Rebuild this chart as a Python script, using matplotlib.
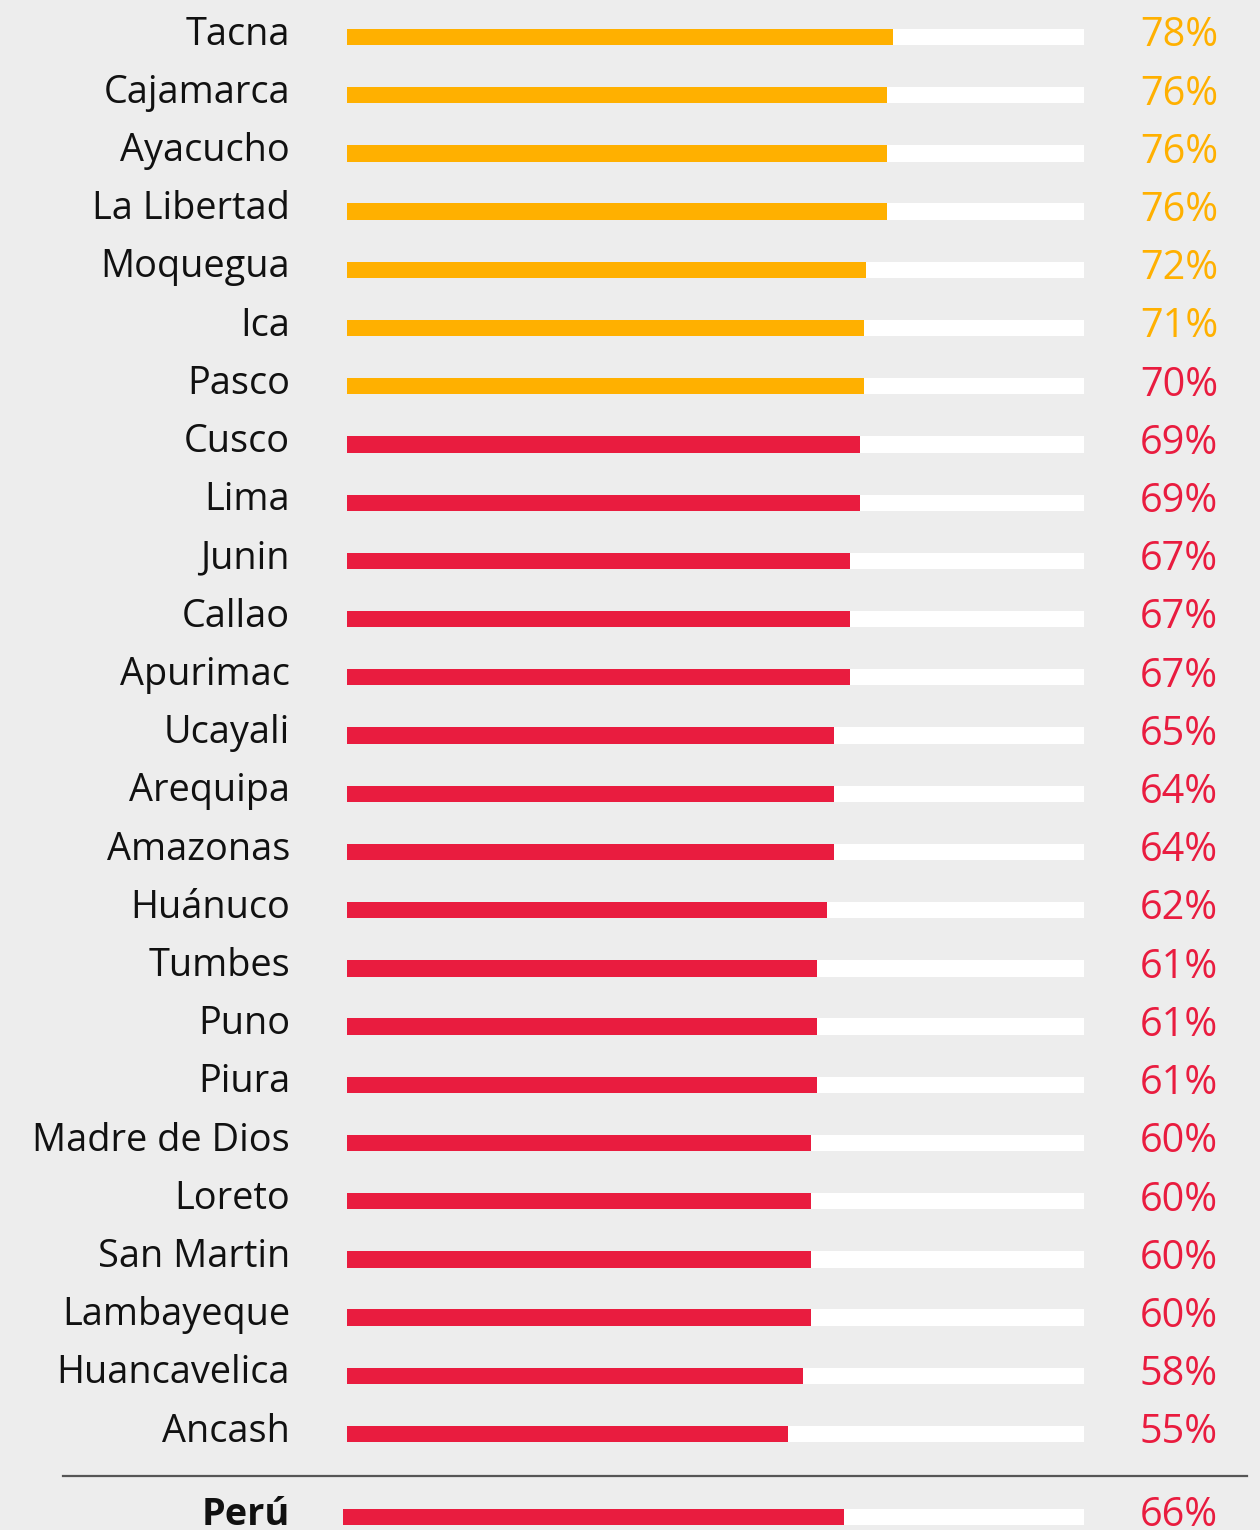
import numpy as np
import matplotlib.pyplot as plt

plt.rcParams['font.family'] = ['Open Sans', 'DejaVu Sans']

regions = ['Tacna', 'Cajamarca', 'Ayacucho', 'La Libertad', 'Moquegua', 'Ica', 'Pasco',
           'Cusco', 'Lima', 'Junin', 'Callao', 'Apurimac', 'Ucayali', 'Arequipa',
           'Amazonas', 'Huánuco', 'Tumbes', 'Puno', 'Piura', 'Madre de Dios', 'Loreto',
           'San Martin', 'Lambayeque', 'Huancavelica', 'Ancash']
pct = [78, 76, 76, 76, 72, 71, 70, 69, 69, 67, 67, 67, 65, 64, 64, 62, 61, 61, 61,
       60, 60, 60, 60, 58, 55]
# filled share of the white track, as drawn in the picture
bar_len = [74.1, 73.3, 73.3, 73.3, 70.4, 70.1, 70.1, 69.6, 69.6, 68.2, 68.2, 68.2,
           66.1, 66.1, 66.1, 65.1, 63.8, 63.8, 63.8, 63.0, 63.0, 63.0, 63.0, 61.9, 59.8]
bar_colors = ['orange'] * 7 + ['red'] * 18
label_colors = ['orange'] * 6 + ['red'] * 19

total_name = 'Perú'
total_pct = 66
total_len = 67.4

ORANGE = '#FFB000'
RED = '#E91C3F'
BG = '#EDEDED'
cmap = {'orange': ORANGE, 'red': RED}

fig = plt.figure(figsize=(12.6, 15.3), dpi=100, facecolor=BG)
# axes: x 0..100 spans the white track, y in row units
ax = fig.add_axes([347 / 1260, 0, 737 / 1260, 1])
ax.set_facecolor(BG)
row_px = 58.21
ax.set_ylim((1530 - 37) / row_px, -37 / row_px)
ax.set_xlim(0, 100)
ax.axis('off')

y = np.arange(len(regions))
h = 0.28
ax.barh(y, 100, height=h, color='white', zorder=1)
ax.barh(y, bar_len, height=h, color=[cmap[c] for c in bar_colors], zorder=2)

x_name = -57 / 7.37
x_pct = 100 + 134 / 7.37
for i, name in enumerate(regions):
    ax.text(x_name, i + 0.13, name, ha='right', va='baseline', fontsize=27.3,
            color='#111111')
    ax.text(x_pct, i + 0.16, f'{pct[i]}%', ha='right', va='baseline', fontsize=28.5,
            color=cmap[label_colors[i]])

# separator and national total
y_sep = (1476 - 37) / row_px
ax.plot([-284 / 7.37, 100 + 163 / 7.37], [y_sep, y_sep], color='#555555', lw=1.6,
        clip_on=False)
y_tot = (1517 - 37) / row_px
ax.barh(y_tot, 100.5, left=-0.5, height=h, color='white', zorder=1, clip_on=False)
ax.barh(y_tot, total_len + 0.5, left=-0.5, height=h, color=RED, zorder=2, clip_on=False)
ax.text(x_name, y_tot + 0.14, total_name, ha='right', va='baseline', fontsize=27.3,
        fontweight='bold', color='#111111')
ax.text(x_pct, y_tot + 0.16, f'{total_pct}%', ha='right', va='baseline', fontsize=28.5,
        color=RED)

plt.savefig('out.png', dpi=100, facecolor=BG)
